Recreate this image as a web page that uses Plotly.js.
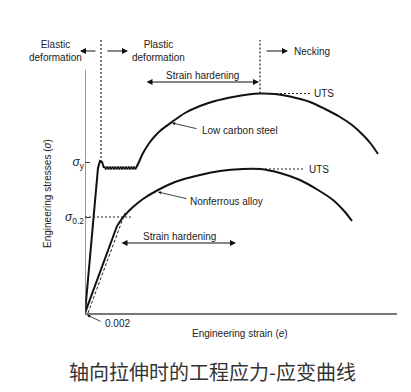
<!DOCTYPE html>
<html><head><meta charset="utf-8">
<script src="https://cdn.plot.ly/plotly-3.0.1.min.js"></script>
<style>html,body{margin:0;padding:0;background:#fff}#chart{width:411px;height:392px}</style>
</head><body><div id="chart"></div>
<script>
// Arbitrary units (no numeric scale shown on the chart)
const steelElasticStrain = [0, 13, 15, 17, 19];
const steelElasticStress = [0, 145, 152, 151, 145];
const steelSerrStrain = [19, 19.5, 20.8, 22.2, 23.5, 24.9, 26.2, 27.6, 28.9, 30.3, 31.6, 33, 34.3, 35.7, 37, 38.4, 39.7, 41.1, 42.4, 43.8, 45.1, 46.5, 47.8, 49.2, 50.5, 51];
const steelSerrStress = [145, 146.5, 143.5, 146.5, 143.5, 146.5, 143.5, 146.5, 143.5, 146.5, 143.5, 146.5, 143.5, 146.5, 143.5, 146.5, 143.5, 146.5, 143.5, 146.5, 143.5, 146.5, 143.5, 146.5, 143.5, 145];
const steelHardStrain = [51, 54, 57, 61, 65, 70, 75, 87, 100, 115, 130, 148, 163, 175, 190, 205, 225, 240, 255, 267, 278, 286, 293];
const steelHardStress = [145, 151, 158, 165, 171, 177, 182, 191, 200, 207, 212, 216, 218.5, 219.5, 219, 216.5, 211, 204, 196, 188, 178, 169, 159];
const alloyElasticStrain = [0, 32];
const alloyElasticStress = [0, 87];
const alloyPlasticStrain = [32, 36, 40, 48, 58, 73, 90, 115, 135, 158, 175, 195, 215, 233, 248, 260, 267];
const alloyPlasticStress = [87, 93, 98, 106, 114, 123, 131, 138, 142, 144, 144, 140, 133, 123, 113, 101, 92];
const offsetStrain = [3, 40];
const offsetStress = [0, 100];
const yieldStress = 151, proofStress = 96;
const steelUTS = 219.5, alloyUTS = 144;
const tickVals = [proofStress, yieldStress];
const tickText = ['<i>σ</i><sub>0.2</sub>', '<i>σ</i><sub>y</sub>'];

const F = 'Liberation Sans, Arial, sans-serif';
const solid = {color: '#111', width: 2};
const traces = [
  {x: steelElasticStrain, y: steelElasticStress, mode: 'lines', line: solid},
  {x: steelSerrStrain, y: steelSerrStress, mode: 'lines', line: {color: '#111', width: 1.6}},
  {x: steelHardStrain, y: steelHardStress, mode: 'lines', line: Object.assign({shape: 'spline', smoothing: 0.8}, solid)},
  {x: alloyElasticStrain, y: alloyElasticStress, mode: 'lines', line: solid},
  {x: alloyPlasticStrain, y: alloyPlasticStress, mode: 'lines', line: Object.assign({shape: 'spline', smoothing: 0.8}, solid)},
  {x: offsetStrain, y: offsetStress, mode: 'lines', line: {color: '#222', width: 1, dash: '3px,2px'}}
];
const dash = {color: '#222', width: 1.2, dash: '2px,2px'};
const guides = [
  [16, yieldStress, 16, 273],
  [175, steelUTS, 175, 273],
  [175, steelUTS, 225, steelUTS],
  [160, alloyUTS, 218, alloyUTS],
  [0, proofStress, 47, proofStress]
];
const shapes = guides.map(g => ({type: 'line', xref: 'x', yref: 'y', x0: g[0], y0: g[1], x1: g[2], y1: g[3], line: dash}));
shapes.push({type: 'line', xref: 'x', yref: 'y', x0: 0, y0: 0, x1: 0, y1: 243, line: {color: '#555', width: 1.2}});

// paper coordinate helpers (plot area: 312 x 283 px)
const px = v => v / 312, py = v => v / 283;
function txt(x, y, t, anchor, size, paper) {
  return {x: paper ? px(x) : x, y: paper ? py(y) : y, xref: paper ? 'paper' : 'x', yref: paper ? 'paper' : 'y', text: t, showarrow: false,
    xanchor: anchor || 'center', yanchor: 'middle', font: {family: F, size: size || 10, color: '#222'}};
}
function arr(x, y, ax, ay, opts) {
  return Object.assign({x: x, y: y, ax: ax, ay: ay, xref: 'x', yref: 'y', axref: 'x', ayref: 'y', text: '', showarrow: true,
    arrowhead: 2, arrowsize: 1, arrowwidth: 1.2, arrowcolor: '#111', standoff: 0, startstandoff: 0}, opts || {});
}
const annotations = [
  txt(-30, 262, 'Elastic<br>deformation', 'center', 10, true),
  txt(73, 262, 'Plastic<br>deformation'),
  Object.assign(arr(px(-5), py(262), px(12), py(262)), {xref: 'paper', yref: 'paper', axref: 'paper', ayref: 'paper'}),
  arr(43, 262, 21, 262),
  arr(203, 262, 180, 262),
  txt(207, 262, 'Necking', 'left'),
  txt(117, 238, 'Strain hardening'),
  arr(174, 231, 60, 231, {arrowside: 'end+start'}),
  txt(227, 220, 'UTS', 'left'),
  txt(222, 144, 'UTS', 'left'),
  txt(155, 183, 'Low carbon steel'),
  arr(87, 190, 113, 184, {arrowsize: 0.8, arrowwidth: 0.8}),
  txt(141, 112, 'Nonferrous alloy'),
  arr(73, 121, 103, 114, {arrowsize: 0.8, arrowwidth: 0.8}),
  txt(94, 77, 'Strain hardening'),
  arr(151, 70, 35, 70, {arrowside: 'end+start'}),
  Object.assign(arr(px(2), py(-2), px(17), py(-9), {arrowsize: 0.8, arrowwidth: 0.8}), {xref: 'paper', yref: 'paper', axref: 'paper', ayref: 'paper'}),
  txt(18, -10, '0.002', 'left', 10, true),
  txt(155, -20, 'Engineering strain (<i>e</i>)', 'center', 10, true),
  {x: px(-38), y: py(119), xref: 'paper', yref: 'paper', text: 'Engineering stresses (<i>σ</i>)', textangle: -90, showarrow: false,
    xanchor: 'center', yanchor: 'middle', font: {family: F, size: 10, color: '#222'}},
  {x: px(127), y: py(-58), xref: 'paper', yref: 'paper', xanchor: 'center', yanchor: 'middle', text: '轴向拉伸时的工程应力-应变曲线',
    showarrow: false, font: {family: 'Noto Sans CJK SC', size: 20, color: '#333'}}
];

const layout = {
  width: 411, height: 392,
  margin: {l: 85, r: 14, t: 30, b: 79},
  paper_bgcolor: '#fff', plot_bgcolor: '#fff',
  showlegend: false,
  xaxis: {range: [0, 312], showgrid: false, zeroline: false, showline: true, linecolor: '#777', linewidth: 1.5, showticklabels: false, ticks: ''},
  yaxis: {range: [0, 283], showgrid: false, zeroline: false, showline: false, tickvals: tickVals, ticktext: tickText, ticks: 'inside', ticklen: 5, tickcolor: '#333', tickfont: {family: F, size: 12, color: '#222'}},
  shapes: shapes,
  annotations: annotations
};
Plotly.newPlot('chart', traces, layout, {displayModeBar: false, staticPlot: true});
</script></body></html>
